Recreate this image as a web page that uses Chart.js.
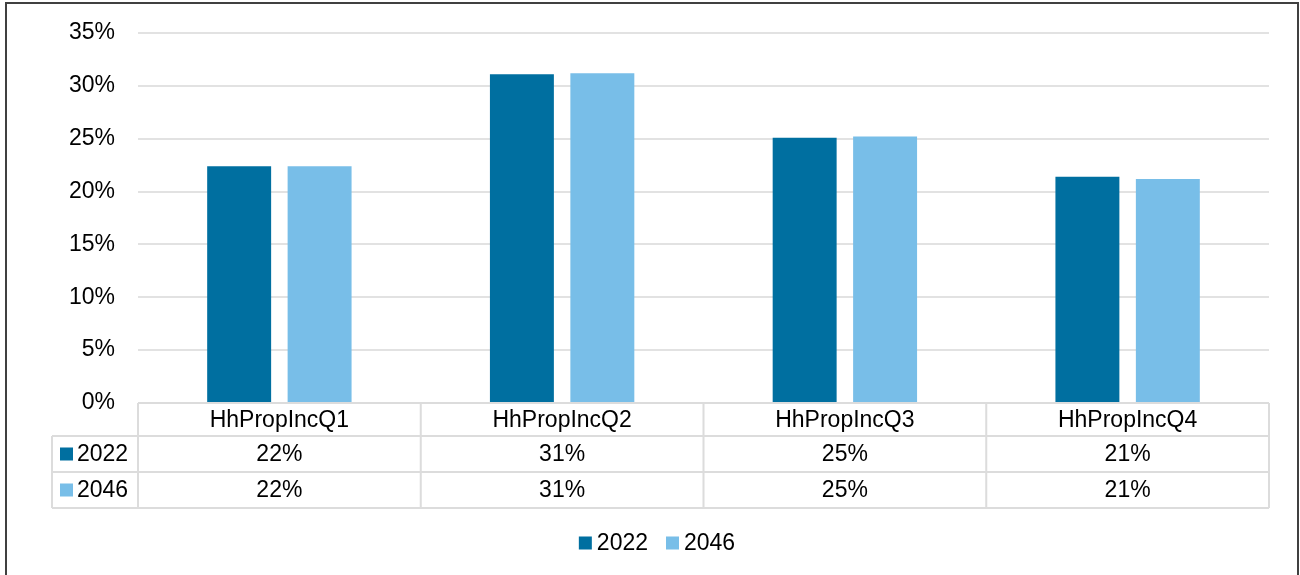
<!DOCTYPE html>
<html>
<head>
<meta charset="utf-8">
<script src="https://cdn.jsdelivr.net/npm/chart.js@4.4.1/dist/chart.umd.min.js"></script>
<style>
  html, body { margin: 0; padding: 0; background: #fff; }
  #wrap { width: 1300px; height: 575px; }
</style>
</head>
<body>
<div id="wrap"><canvas id="c" width="1300" height="575"></canvas></div>
<script>
const categories = ['HhPropIncQ1', 'HhPropIncQ2', 'HhPropIncQ3', 'HhPropIncQ4'];
const seriesNames = ['2022', '2046'];
const values2022 = [22.4, 31.1, 25.1, 21.4];
const values2046 = [22.4, 31.2, 25.2, 21.2];
const yTicks = [0, 5, 10, 15, 20, 25, 30, 35];

const FONT = '"Liberation Sans", Arial, sans-serif';
const FSIZE = 23;
const colors = ['#006fa0', '#78bee8'];

const framePlugin = {
  id: 'frame',
  beforeDraw(chart) {
    const ctx = chart.ctx;
    ctx.save();
    ctx.fillStyle = '#fff';
    ctx.fillRect(0, 0, chart.width, chart.height);
    ctx.strokeStyle = '#404040';
    ctx.lineWidth = 2;
    ctx.strokeRect(6, 3, 1292, 620);
    ctx.restore();
  }
};

const tablePlugin = {
  id: 'dataTable',
  afterDraw(chart) {
    const ctx = chart.ctx;
    const area = chart.chartArea;
    const x = chart.scales.x;
    const n = categories.length;
    const cw = (area.right - area.left) / n;
    const top = area.bottom;
    const hdrH = 33, rowH = 36;
    const labelLeft = 52;
    const rows = [top, top + hdrH, top + hdrH + rowH, top + hdrH + 2 * rowH];
    ctx.save();
    ctx.strokeStyle = '#dcdcdc';
    ctx.lineWidth = 2;
    ctx.beginPath();
    ctx.moveTo(area.left, rows[0]); ctx.lineTo(area.right, rows[0]);
    for (let r = 1; r < rows.length; r++) {
      ctx.moveTo(labelLeft, rows[r]); ctx.lineTo(area.right, rows[r]);
    }
    ctx.moveTo(labelLeft, rows[1]); ctx.lineTo(labelLeft, rows[3]);
    for (let i = 0; i <= n; i++) {
      const xb = (i < n) ? x.getPixelForValue(i) - cw / 2 : x.getPixelForValue(n - 1) + cw / 2;
      ctx.moveTo(xb, rows[0]); ctx.lineTo(xb, rows[3]);
    }
    ctx.stroke();

    ctx.fillStyle = '#000';
    ctx.font = FSIZE + 'px ' + FONT;
    ctx.textBaseline = 'middle';
    ctx.textAlign = 'center';
    categories.forEach((c, i) => {
      ctx.fillText(c, x.getPixelForValue(i), (rows[0] + rows[1]) / 2 + 1);
    });
    chart.data.datasets.forEach((ds, d) => {
      const cy = (rows[d + 1] + rows[d + 2]) / 2 + 1;
      ds.data.forEach((v, i) => {
        ctx.textAlign = 'center';
        ctx.fillStyle = '#000';
        ctx.fillText(Math.round(v) + '%', x.getPixelForValue(i), cy);
      });
      ctx.fillStyle = ds.backgroundColor;
      ctx.fillRect(labelLeft + 8, cy - 7.5, 13, 13);
      ctx.fillStyle = '#000';
      ctx.textAlign = 'left';
      ctx.fillText(ds.label, labelLeft + 25, cy);
    });

    const ly = 544;
    const box = 13, gap = 5, itemGap = 18;
    const widths = chart.data.datasets.map(ds => ctx.measureText(ds.label).width);
    let total = 0;
    widths.forEach((w, i) => { total += box + gap + w + (i ? itemGap : 0); });
    let lx = 657 - total / 2;
    chart.data.datasets.forEach((ds, i) => {
      ctx.fillStyle = ds.backgroundColor;
      ctx.fillRect(lx, ly - 7.5, box, box);
      ctx.fillStyle = '#000';
      ctx.textAlign = 'left';
      ctx.fillText(ds.label, lx + box + gap, ly);
      lx += box + gap + widths[i] + itemGap;
    });
    ctx.restore();
  }
};

new Chart(document.getElementById('c'), {
  type: 'bar',
  data: {
    labels: categories,
    datasets: [
      { label: seriesNames[0], data: values2022, backgroundColor: colors[0], borderWidth: 0,
        categoryPercentage: 0.569, barPercentage: 0.795 },
      { label: seriesNames[1], data: values2046, backgroundColor: colors[1], borderWidth: 0,
        categoryPercentage: 0.569, barPercentage: 0.795 }
    ]
  },
  options: {
    responsive: false,
    animation: false,
    layout: { padding: { left: 0, right: 31, top: 33, bottom: 172 } },
    plugins: {
      legend: { display: false },
      tooltip: { enabled: false }
    },
    scales: {
      x: {
        display: false
      },
      y: {
        min: 0, max: 35,
        afterBuildTicks(scale) { scale.ticks = yTicks.map(v => ({ value: v })); },
        afterFit(scale) { scale.width = 138; scale.paddingTop = 0; scale.paddingBottom = 0; },
        ticks: {
          padding: 23,
          color: '#000',
          font: { family: FONT, size: FSIZE },
          callback: v => v + '%'
        },
        grid: { color: '#e2e2e2', lineWidth: 2, drawTicks: false },
        border: { display: false }
      }
    }
  },
  plugins: [framePlugin, tablePlugin]
});
</script>
</body>
</html>
